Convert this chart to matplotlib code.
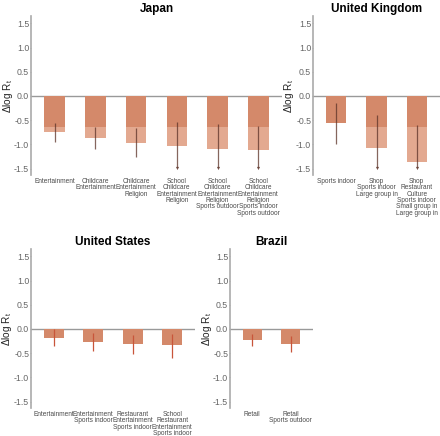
import matplotlib
matplotlib.use("Agg")
import matplotlib.pyplot as plt

plt.rcParams['font.family'] = ['Liberation Sans', 'DejaVu Sans']
plt.rcParams['mathtext.fontset'] = 'custom'
plt.rcParams['mathtext.rm'] = 'Liberation Sans'
plt.rcParams['mathtext.it'] = 'Liberation Sans'

# data
japan_labels = ["Entertainment",
                "Childcare\nEntertainment",
                "Childcare\nEntertainment\nReligion",
                "School\nChildcare\nEntertainment\nReligion",
                "School\nChildcare\nEntertainment\nReligion\nSports outdoor",
                "School\nChildcare\nEntertainment\nReligion\nSports indoor\nSports outdoor"]
japan_vals = [-0.75, -0.87, -0.96, -1.03, -1.09, -1.11]
japan_lo = [-0.94, -1.09, -1.25, -1.49, -1.49, -1.49]
japan_hi = [-0.55, -0.63, -0.67, -0.53, -0.58, -0.62]
japan_trunc = [False, False, False, True, True, True]

uk_labels = ["Sports indoor",
             "Shop\nSports indoor\nLarge group in",
             "Shop\nRestaurant\nCulture\nSports indoor\nSmall group in\nLarge group in"]
uk_vals = [-0.56, -1.07, -1.36]
uk_lo = [-0.99, -1.49, -1.49]
uk_hi = [-0.14, -0.40, -0.60]
uk_trunc = [False, True, True]

us_labels = ["Entertainment",
             "Entertainment\nSports indoor",
             "Restaurant\nEntertainment\nSports indoor",
             "School\nRestaurant\nEntertainment\nSports indoor"]
us_vals = [-0.18, -0.27, -0.31, -0.34]
us_lo = [-0.36, -0.46, -0.52, -0.59]
us_hi = [-0.01, -0.09, -0.12, -0.10]
us_trunc = [False, False, False, False]

br_labels = ["Retail", "Retail\nSports outdoor"]
br_vals = [-0.22, -0.31]
br_lo = [-0.36, -0.47]
br_hi = [-0.10, -0.14]
br_trunc = [False, False]

cut = -0.64  # where the dark part of the bar stops

W, H = 440, 436
fig = plt.figure(figsize=(W / 100, H / 100), dpi=100)


def panel(rect, title, labels, vals, lo, hi, trunc, ecol, ealpha):
    x0, y0, w, h = rect
    ax = fig.add_axes([x0 / W, (H - y0 - h) / H, w / W, h / H])
    n = len(vals)
    xs = list(range(n))
    dark = [max(v, cut) for v in vals]
    light_bottom = [cut if v < cut else 0 for v in vals]
    light_h = [v - cut if v < cut else 0 for v in vals]
    ax.bar(xs, light_h, bottom=light_bottom, width=0.5, color='#e3a990', zorder=2)
    ax.bar(xs, dark, width=0.5, color='#d4896a', zorder=2)
    for i in xs:
        bot = lo[i] + 0.03 if trunc[i] else lo[i]
        ax.plot([i, i], [hi[i], bot], color=ecol, alpha=ealpha, lw=0.9,
                solid_capstyle='butt', zorder=3)
        if trunc[i]:
            ax.plot(i, lo[i], marker='v', ms=2.3, color='#5c3328', alpha=0.85,
                    mec='none', zorder=3)
    ax.axhline(0, color='#999999', lw=1.0, zorder=1)
    ax.set_xlim(-0.58, n - 0.42)
    ax.set_ylim(-1.63, 1.65)
    ax.set_yticks([-1.5, -1.0, -0.5, 0.0, 0.5, 1.0, 1.5])
    ax.set_yticklabels(["-1.5", "-1.0", "-0.5", "0.0", "0.5", "1.0", "1.5"])
    ax.set_xticks(xs)
    ax.set_xticklabels(labels, fontsize=4.7, color='#4a4a4a', linespacing=0.88)
    ax.tick_params(axis='x', length=0, pad=2)
    ax.tick_params(axis='y', length=1.0, width=0.6, color='#aaaaaa',
                   labelsize=6.3, labelcolor='#666666', pad=0.3)
    for s in ['top', 'right', 'bottom']:
        ax.spines[s].set_visible(False)
    ax.spines['left'].set_color('#aaaaaa')
    ax.spines['left'].set_linewidth(1.2)
    ax.set_ylabel(r'$\Delta$log R$_\mathregular{t}$', fontsize=7.2,
                  color='#222222')
    ax.yaxis.set_label_coords(-16.5 / w, 0.5)
    ax.set_title(title, fontsize=8.5, fontweight='bold', pad=3)
    return ax


panel((31, 16, 251, 159), "Japan", japan_labels, japan_vals, japan_lo,
      japan_hi, japan_trunc, '#5c3328', 0.75)
panel((313, 16, 127, 159), "United Kingdom", uk_labels, uk_vals, uk_lo,
      uk_hi, uk_trunc, '#5c3328', 0.75)
panel((31, 249, 164, 159), "United States", us_labels, us_vals, us_lo,
      us_hi, us_trunc, '#c8553a', 1.0)
panel((230, 249, 83, 159), "Brazil", br_labels, br_vals, br_lo,
      br_hi, br_trunc, '#c8553a', 1.0)

fig.savefig("out.png", dpi=100)
